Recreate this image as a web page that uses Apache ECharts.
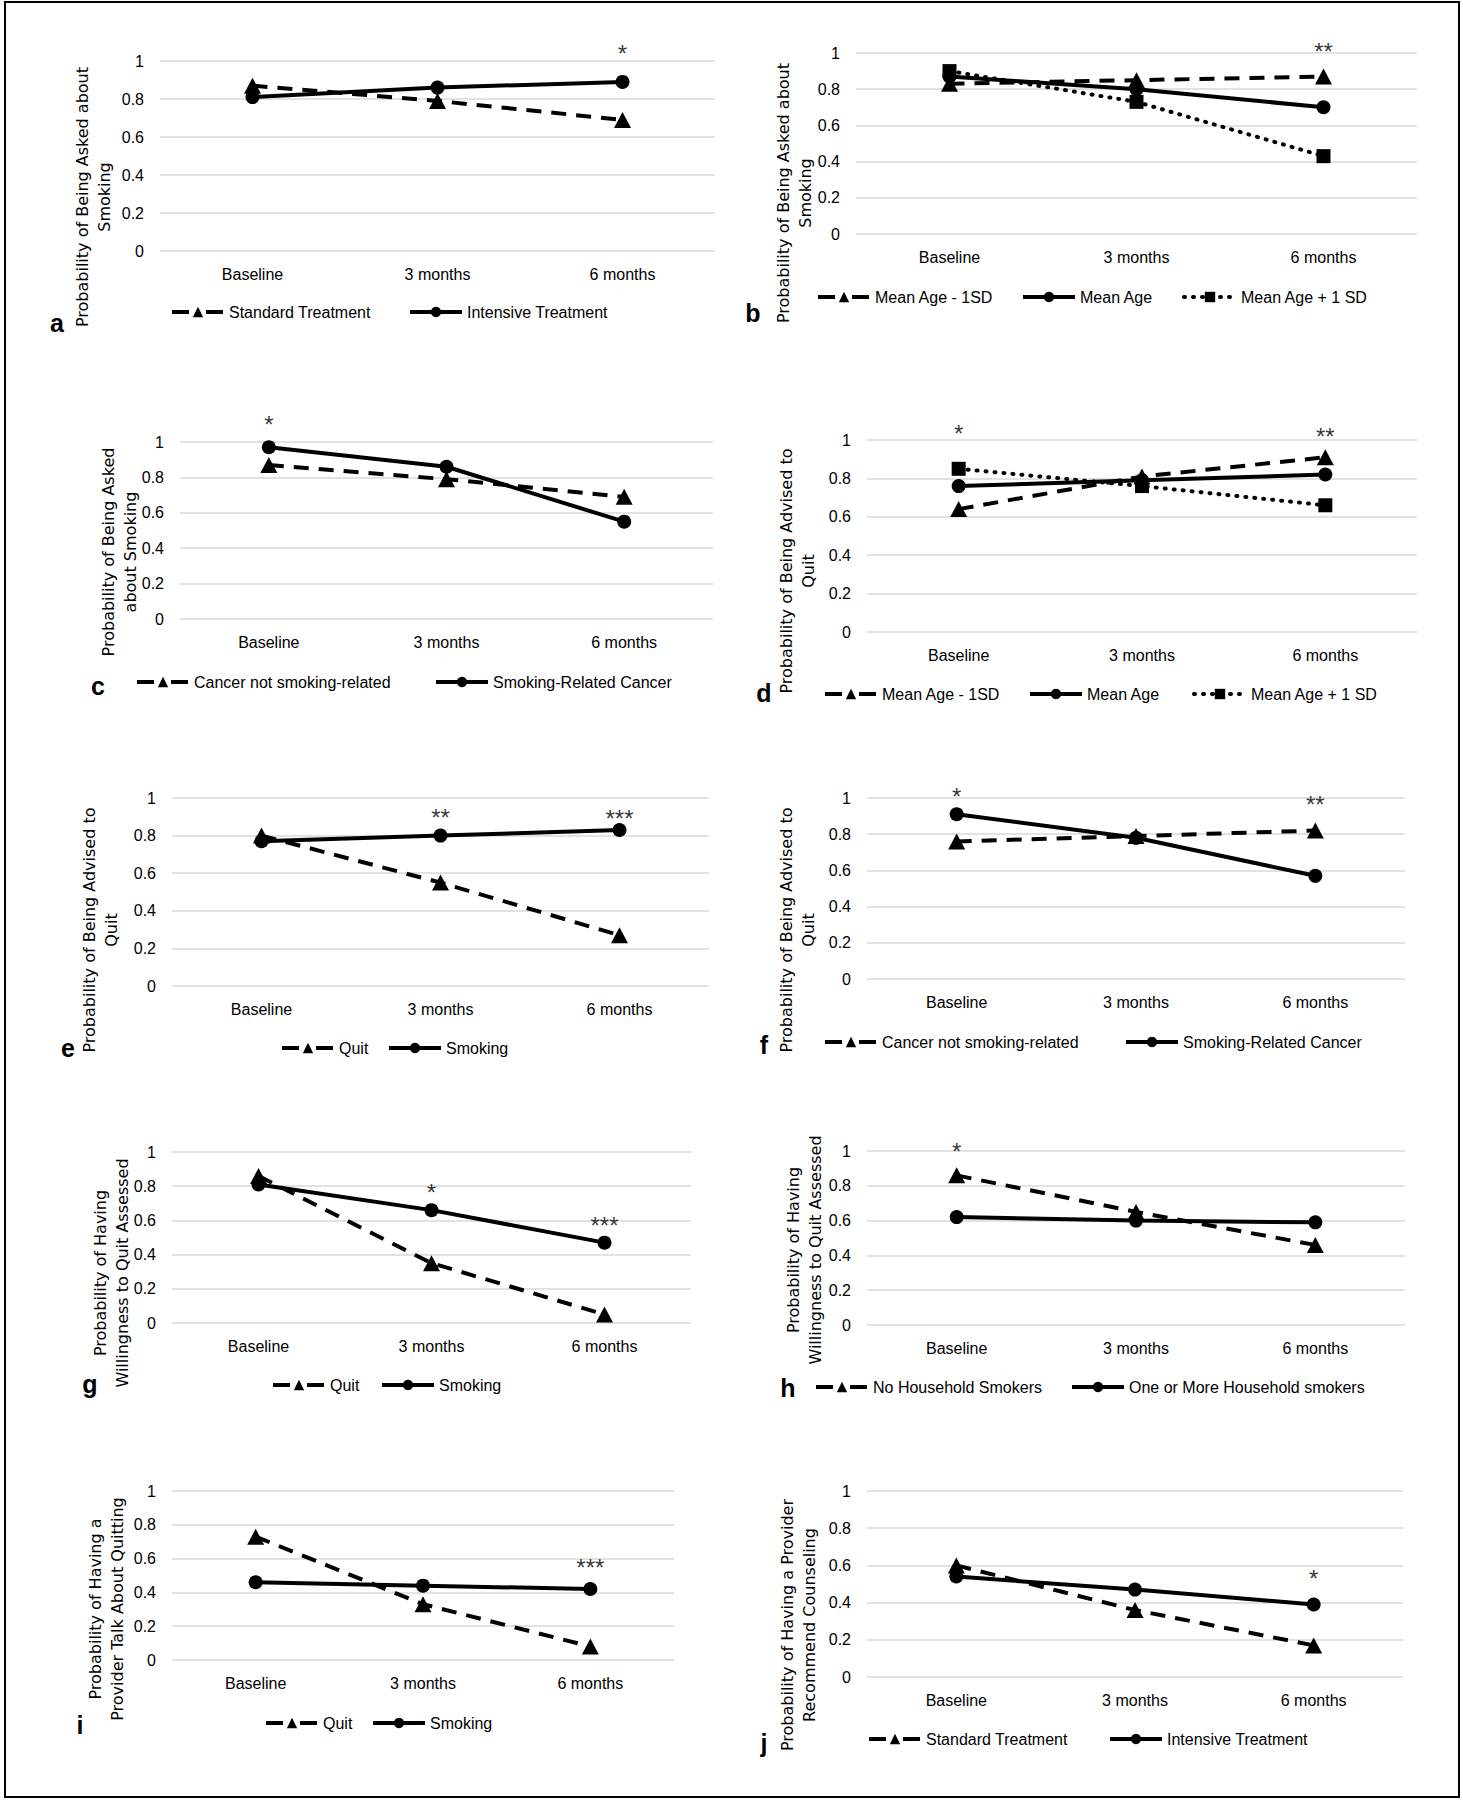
<!DOCTYPE html>
<html><head><meta charset="utf-8">
<script src="https://cdn.jsdelivr.net/npm/echarts@6/dist/echarts.min.js"></script>
<style>html,body{margin:0;padding:0;background:#fff}#c{width:1463px;height:1800px}</style>
</head><body><div id="c"></div>
<script>
// ---------- DATA ----------
const categories = ['Baseline', '3 months', '6 months'];
const yMin = 0, yMax = 1, yStep = 0.2;

// a: Asked about smoking by treatment
const aStandard = [0.87, 0.79, 0.69];
const aIntensive = [0.81, 0.86, 0.89];
const aSig = ['', '', '*'];
const aSigLevel = [null, null, 1.04];

// b: Asked about smoking by age
const bMinus1SD = [0.83, 0.85, 0.87];
const bMeanAge = [0.87, 0.80, 0.70];
const bPlus1SD = [0.90, 0.73, 0.43];
const bSig = ['', '', '**'];
const bSigLevel = [null, null, 1.01];

// c: Asked about smoking by cancer type
const cNotRelated = [0.87, 0.79, 0.69];
const cRelated = [0.97, 0.86, 0.55];
const cSig = ['*', '', ''];
const cSigLevel = [1.10, null, null];

// d: Advised to quit by age
const dMinus1SD = [0.64, 0.81, 0.91];
const dMeanAge = [0.76, 0.79, 0.82];
const dPlus1SD = [0.85, 0.76, 0.66];
const dSig = ['*', '', '**'];
const dSigLevel = [1.034, null, 1.019];

// e: Advised to quit by smoking status
const eQuit = [0.80, 0.55, 0.27];
const eSmoking = [0.77, 0.80, 0.83];
const eSig = ['', '**', '***'];
const eSigLevel = [null, 0.897, 0.892];

// f: Advised to quit by cancer type
const fNotRelated = [0.76, 0.79, 0.82];
const fRelated = [0.91, 0.78, 0.57];
const fSig = ['*', '', '**'];
const fSigLevel = [1.01, null, 0.966];

// g: Willingness to quit assessed by smoking status
const gQuit = [0.86, 0.35, 0.05];
const gSmoking = [0.81, 0.66, 0.47];
const gSig = ['', '*', '***'];
const gSigLevel = [null, 0.766, 0.573];

// h: Willingness to quit assessed by household smokers
const hNoHousehold = [0.86, 0.65, 0.46];
const hHousehold = [0.62, 0.60, 0.59];
const hSig = ['*', '', ''];
const hSigLevel = [0.999, null, null];

// i: Provider talk about quitting by smoking status
const iQuit = [0.73, 0.33, 0.08];
const iSmoking = [0.46, 0.44, 0.42];
const iSig = ['', '', '***'];
const iSigLevel = [null, null, 0.55];

// j: Provider recommend counseling by treatment
const jStandard = [0.60, 0.36, 0.17];
const jIntensive = [0.54, 0.47, 0.39];
const jSig = ['', '', '*'];
const jSigLevel = [null, null, 0.531];

// ---------- LAYOUT / STYLE ----------
const FONT = '"Liberation Sans", Arial, sans-serif';
const TITLE_FONT = '"DejaVu Sans", sans-serif';
const STYLES = {
  dashTri: {symbol: 'triangle', symbolSize: [17, 16], line: {type: [15, 10], width: 4}, legendLine: {type: [17, 17], width: 4}},
  solidCircle: {symbol: 'circle', symbolSize: 14, line: {type: 'solid', width: 4}, legendLine: {type: 'solid', width: 4}},
  dotSquare: {symbol: 'rect', symbolSize: 14, line: {type: [1, 8], width: 4, cap: 'round'}, legendLine: {type: [1, 8], width: 4, cap: 'round'}}
};

const panels = [
  {grid: {left: 160, top: 61, width: 555, height: 190}, title: 'Probability of Being Asked about\nSmoking', titleAt: [93, 197], letter: 'a', letterAt: [57, 323],
   series: [['Standard Treatment', aStandard, 'dashTri'], ['Intensive Treatment', aIntensive, 'solidCircle']],
   legendAt: [[170, 313], [408, 313]], sig: aSig, sigLevel: aSigLevel},
  {grid: {left: 856, top: 53, width: 561, height: 181}, title: 'Probability of Being Asked about\nSmoking', titleAt: [794, 193], letter: 'b', letterAt: [753, 313],
   series: [['Mean Age - 1SD', bMinus1SD, 'dashTri'], ['Mean Age', bMeanAge, 'solidCircle'], ['Mean Age + 1 SD', bPlus1SD, 'dotSquare']],
   legendAt: [[816, 298], [1021, 298], [1182, 298]], sig: bSig, sigLevel: bSigLevel},
  {grid: {left: 180, top: 442, width: 533, height: 177}, title: 'Probability of Being Asked\nabout Smoking', titleAt: [119, 552], letter: 'c', letterAt: [98, 686],
   series: [['Cancer not smoking-related', cNotRelated, 'dashTri'], ['Smoking-Related Cancer', cRelated, 'solidCircle']],
   legendAt: [[135, 683], [434, 683]], sig: cSig, sigLevel: cSigLevel},
  {grid: {left: 867, top: 440, width: 550, height: 192}, title: 'Probability of Being Advised to\nQuit', titleAt: [797, 571], letter: 'd', letterAt: [764, 693],
   series: [['Mean Age - 1SD', dMinus1SD, 'dashTri'], ['Mean Age', dMeanAge, 'solidCircle'], ['Mean Age + 1 SD', dPlus1SD, 'dotSquare']],
   legendAt: [[823, 695], [1028, 695], [1192, 695]], sig: dSig, sigLevel: dSigLevel},
  {grid: {left: 172, top: 798, width: 537, height: 188}, title: 'Probability of Being Advised to\nQuit', titleAt: [100, 930], letter: 'e', letterAt: [68, 1048],
   series: [['Quit', eQuit, 'dashTri'], ['Smoking', eSmoking, 'solidCircle']],
   legendAt: [[280, 1049], [387, 1049]], sig: eSig, sigLevel: eSigLevel},
  {grid: {left: 867, top: 798, width: 538, height: 181}, title: 'Probability of Being Advised to\nQuit', titleAt: [797, 930], letter: 'f', letterAt: [764, 1045],
   series: [['Cancer not smoking-related', fNotRelated, 'dashTri'], ['Smoking-Related Cancer', fRelated, 'solidCircle']],
   legendAt: [[823, 1043], [1124, 1043]], sig: fSig, sigLevel: fSigLevel},
  {grid: {left: 172, top: 1152, width: 519, height: 171}, title: 'Probability of Having\nWillingness to Quit Assessed', titleAt: [111, 1273], letter: 'g', letterAt: [90, 1384],
   series: [['Quit', gQuit, 'dashTri'], ['Smoking', gSmoking, 'solidCircle']],
   legendAt: [[271, 1386], [380, 1386]], sig: gSig, sigLevel: gSigLevel},
  {grid: {left: 867, top: 1151, width: 538, height: 174}, title: 'Probability of Having\nWillingness to Quit Assessed', titleAt: [804, 1250], letter: 'h', letterAt: [788, 1388],
   series: [['No Household Smokers', hNoHousehold, 'dashTri'], ['One or More Household smokers', hHousehold, 'solidCircle']],
   legendAt: [[814, 1388], [1070, 1388]], sig: hSig, sigLevel: hSigLevel},
  {grid: {left: 172, top: 1491, width: 502, height: 169}, title: 'Probability of Having a\nProvider Talk About Quitting', titleAt: [106, 1609], letter: 'i', letterAt: [80, 1725],
   series: [['Quit', iQuit, 'dashTri'], ['Smoking', iSmoking, 'solidCircle']],
   legendAt: [[264, 1724], [371, 1724]], sig: iSig, sigLevel: iSigLevel},
  {grid: {left: 867, top: 1491, width: 536, height: 186}, title: 'Probability of Having a Provider\nRecommend Counseling', titleAt: [798, 1625], letter: 'j', letterAt: [764, 1743],
   series: [['Standard Treatment', jStandard, 'dashTri'], ['Intensive Treatment', jIntensive, 'solidCircle']],
   legendAt: [[867, 1740], [1108, 1740]], sig: jSig, sigLevel: jSigLevel}
];

// ---------- BUILD ----------
const grids = [], xAxes = [], yAxes = [], series = [], legends = [], graphics = [];

graphics.push({type: 'rect', shape: {x: 5, y: 2, width: 1454, height: 1795}, style: {fill: 'none', stroke: '#000', lineWidth: 2}, silent: true});

panels.forEach((p, i) => {
  grids.push(Object.assign({containLabel: false}, p.grid));
  xAxes.push({
    type: 'category', gridIndex: i, data: categories, boundaryGap: true,
    axisLine: {show: false}, axisTick: {show: false}, splitLine: {show: false},
    axisLabel: {margin: 15, fontSize: 16, color: '#000', fontFamily: FONT}
  });
  yAxes.push({
    type: 'value', gridIndex: i, min: yMin, max: yMax, interval: yStep,
    axisLine: {show: false}, axisTick: {show: false},
    splitLine: {lineStyle: {color: '#d9d9d9', width: 1.5}},
    axisLabel: {margin: 16, fontSize: 16, color: '#000', fontFamily: FONT}
  });
  p.series.forEach((s, k) => {
    const st = STYLES[s[2]];
    series.push({
      type: 'line', name: s[0], xAxisIndex: i, yAxisIndex: i, data: s[1],
      symbol: st.symbol, symbolSize: st.symbolSize, showSymbol: true,
      lineStyle: Object.assign({color: '#000'}, st.line),
      itemStyle: {color: '#000'}, emphasis: {disabled: true}, animation: false, z: 2 + k
    });
    legends.push({
      data: [s[0]], left: p.legendAt[k][0], top: p.legendAt[k][1] - 9,
      itemWidth: 52, itemHeight: 13, itemGap: 0, selectedMode: false, padding: 0,
      lineStyle: Object.assign({color: '#000'}, st.legendLine),
      itemStyle: {color: '#000'},
      textStyle: {fontSize: 16, color: '#000', fontFamily: FONT}
    });
  });
  const sigData = [];
  p.sig.forEach((t, k) => {
    if (t) sigData.push({value: [categories[k], p.sigLevel[k]], label: {formatter: t}});
  });
  series.push({
    type: 'scatter', name: 'sig' + i, xAxisIndex: i, yAxisIndex: i, data: sigData,
    symbolSize: 1, itemStyle: {color: 'rgba(0,0,0,0)'}, clip: false, silent: true,
    label: {show: true, position: 'inside', fontSize: 24, color: '#000', fontFamily: FONT},
    animation: false, z: 5
  });
  graphics.push({
    type: 'text', x: p.titleAt[0], y: p.titleAt[1], rotation: Math.PI / 2, silent: true,
    style: {text: p.title, fill: '#000', font: '16px ' + TITLE_FONT, align: 'center', verticalAlign: 'middle', lineHeight: 22}
  });
  graphics.push({
    type: 'text', x: p.letterAt[0], y: p.letterAt[1], silent: true,
    style: {text: p.letter, fill: '#000', font: 'bold 25px ' + FONT, align: 'center', verticalAlign: 'middle'}
  });
});

const chart = echarts.init(document.getElementById('c'), null, {renderer: 'svg'});
chart.setOption({
  backgroundColor: '#fff',
  animation: false,
  grid: grids, xAxis: xAxes, yAxis: yAxes, series: series, legend: legends,
  graphic: graphics
});
</script>
</body></html>
